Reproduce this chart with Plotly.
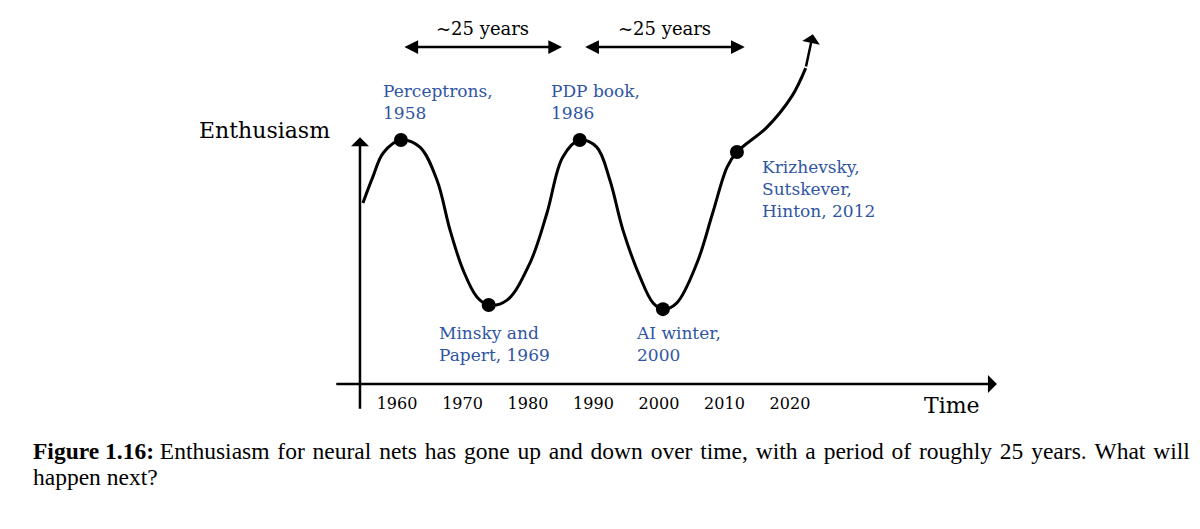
import plotly.graph_objects as go

# ---- data (x: position on the time axis in years, y: enthusiasm, arbitrary units) ----
CURVE_YEAR = [1954.8, 1956.3, 1957.9, 1960.6, 1963.5, 1966.1, 1968.1, 1970.1, 1972.2,
              1974.0, 1976.8, 1980.3, 1982.9, 1985.3, 1987.9, 1990.5, 1992.5, 1994.5,
              1997.1, 1999.1, 2000.6, 2002.7, 2005.8, 2008.2, 2010.4, 2011.9, 2016.5,
              2020.3, 2022.4, 2023.5]
CURVE_ENTHUSIASM = [0.742, 0.848, 0.947, 1.000, 0.971, 0.836, 0.631, 0.467, 0.357,
                    0.324, 0.344, 0.496, 0.701, 0.930, 1.000, 0.971, 0.836, 0.631,
                    0.439, 0.332, 0.307, 0.332, 0.496, 0.701, 0.889, 0.951, 1.053,
                    1.180, 1.295, 1.434]

EVENT_LABELS = ["Perceptrons,<br>1958", "Minsky and<br>Papert, 1969", "PDP book,<br>1986",
                "AI winter,<br>2000", "Krizhevsky,<br>Sutskever,<br>Hinton, 2012"]
EVENT_YEAR = [1960.6, 1974.0, 1987.9, 2000.6, 2011.9]
EVENT_ENTHUSIASM = [1.000, 0.324, 1.000, 0.307, 0.951]

TICK_YEARS = [1960, 1970, 1980, 1990, 2000, 2010, 2020]
TICK_LABELS = [str(v) for v in TICK_YEARS]

PERIOD_LABEL = "~25 years"
PERIOD_START = [1960.9, 1988.5]
PERIOD_END = [1985.2, 2013.1]

X_AXIS_SPAN = [1950.5, 2051.6]
Y_AXIS_SPAN = [-0.107, 1.012]
Y_AXIS_AT = 1954.35

CAPTION_BOLD = "Figure 1.16:"
CAPTION_WORDS_1 = ("Enthusiasm for neural nets has gone up and down over time, "
                   "with a period of roughly 25 years. What will").split(" ")
CAPTION_2 = "happen next?"

# ---- styles ----
BLUE = "#2f55a3"
SERIF = "DejaVu Serif"
CAP_FONT = "Liberation Serif"
CAP_SIZE = 23.5
X_RANGE = [1899.39, 2082.60]
Y_RANGE = [-0.594, 1.574]
GAP = " \u200a"  # slightly widened inter-word gap (justified text)

# label offsets (pixels) relative to the event markers
LABEL_SHIFT = [(-20, 38), (-52, -39), (-31, 38), (-29, -35), (23, -37)]

fig = go.Figure()

fig.add_trace(go.Scatter(
    x=CURVE_YEAR[:-1], y=CURVE_ENTHUSIASM[:-1], mode="lines",
    line=dict(color="black", width=3, shape="spline", smoothing=1.0),
    hoverinfo="skip", showlegend=False))

fig.add_trace(go.Scatter(
    x=EVENT_YEAR, y=EVENT_ENTHUSIASM, mode="markers",
    marker=dict(color="black", size=14), hoverinfo="skip", showlegend=False))

arrow_style = dict(xref="x", yref="y", axref="x", ayref="y", showarrow=True, text="",
                   arrowsize=1.2, arrowwidth=2.5, arrowcolor="black", standoff=0)
ann = []
# arrow at the end of the curve
ann.append(dict(x=CURVE_YEAR[-1], y=CURVE_ENTHUSIASM[-1], ax=CURVE_YEAR[-2], ay=CURVE_ENTHUSIASM[-2],
                arrowhead=1, **arrow_style))
# axes
ann.append(dict(x=X_AXIS_SPAN[1], y=0, ax=X_AXIS_SPAN[0], ay=0, arrowhead=1, **arrow_style))
ann.append(dict(x=Y_AXIS_AT, y=Y_AXIS_SPAN[1], ax=Y_AXIS_AT, ay=Y_AXIS_SPAN[0], arrowhead=1, **arrow_style))
# period arrows
for s, e in zip(PERIOD_START, PERIOD_END):
    st = dict(arrow_style)
    st["arrowsize"] = 1.1
    ann.append(dict(x=e, y=1.381, ax=s, ay=1.381, arrowhead=2, arrowside="end+start",
                    startstandoff=0, **st))
    ann.append(dict(x=(s + e) / 2, y=1.459, xref="x", yref="y", showarrow=False,
                    text=PERIOD_LABEL, font=dict(family=SERIF, size=18, color="black")))
# event labels
for lbl, xv, yv, (dx, dy) in zip(EVENT_LABELS, EVENT_YEAR, EVENT_ENTHUSIASM, LABEL_SHIFT):
    ann.append(dict(x=xv, y=yv, xref="x", yref="y", showarrow=False, text=lbl,
                    xanchor="left", yanchor="middle", align="left", xshift=dx, yshift=dy,
                    font=dict(family=SERIF, size=17, color=BLUE)))
# axis titles
ann.append(dict(x=1950.08, y=1.041, xref="x", yref="y", showarrow=False, text="Enthusiasm",
                xanchor="right", yanchor="middle", font=dict(family=SERIF, size=22, color="black")))
ann.append(dict(x=2049.3, y=-0.086, xref="x", yref="y", showarrow=False, text="Time",
                xanchor="right", yanchor="middle", font=dict(family=SERIF, size=22, color="black")))
# caption
caption_1 = "<b>" + CAPTION_BOLD + "</b> " + GAP.join(CAPTION_WORDS_1)
ann.append(dict(x=31 / 1200, y=(529 - 451) / 529, xref="paper", yref="paper", showarrow=False,
                text=caption_1, xanchor="left", yanchor="middle",
                font=dict(family=CAP_FONT, size=CAP_SIZE, color="black")))
ann.append(dict(x=31 / 1200, y=(529 - 477) / 529, xref="paper", yref="paper", showarrow=False,
                text=CAPTION_2, xanchor="left", yanchor="middle",
                font=dict(family=CAP_FONT, size=CAP_SIZE, color="black")))

axis_pos = (0 - Y_RANGE[0]) / (Y_RANGE[1] - Y_RANGE[0])

fig.update_layout(
    width=1200, height=529, margin=dict(l=0, r=0, t=0, b=0),
    paper_bgcolor="white", plot_bgcolor="white",
    xaxis=dict(range=X_RANGE, showgrid=False, zeroline=False, showline=False,
               tickvals=TICK_YEARS, ticktext=TICK_LABELS, ticks="", anchor="free",
               position=axis_pos, ticklabelstandoff=8,
               tickfont=dict(family=SERIF, size=16, color="black"), fixedrange=True),
    yaxis=dict(range=Y_RANGE, visible=False, fixedrange=True),
    annotations=ann, showlegend=False)

fig.write_html("out.html", config={"displayModeBar": False},
               post_script="document.body.style.margin='0px';")
